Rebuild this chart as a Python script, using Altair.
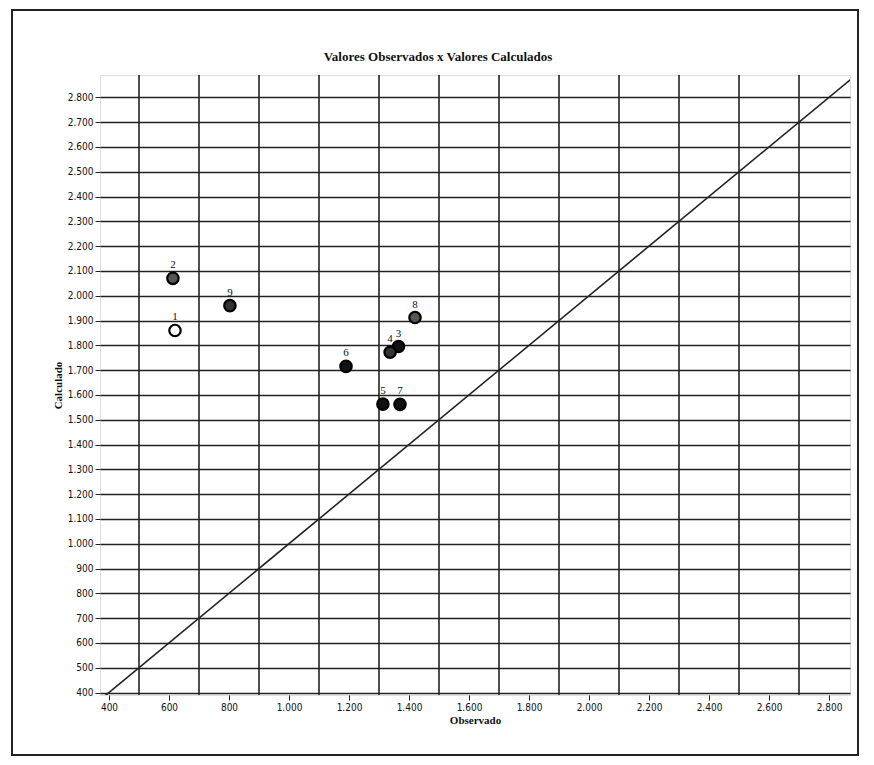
import altair as alt
import pandas as pd

# Data
ids = ["1", "2", "3", "4", "5", "6", "7", "8", "9"]
observado = [620, 613, 1365, 1337, 1313, 1190, 1370, 1420, 803]
calculado = [1860, 2070, 1795, 1772, 1563, 1715, 1562, 1912, 1960]
fills = ["#ffffff", "#555555", "#111111", "#333333", "#111111", "#111111", "#111111", "#555555", "#333333"]

x_ticks = list(range(400, 2801, 200))
y_ticks = list(range(400, 2801, 100))
x_grid = list(range(500, 2801, 200))
diag = [380, 2880]
title_text = ["Valores Observados x Valores Calculados"]

X_DOM = [370, 2870]
Y_DOM = [390, 2890]

pts = pd.DataFrame({"id": ids, "obs": observado, "calc": calculado, "fill": fills})
grid_df = pd.DataFrame({"g": x_grid})
diag_df = pd.DataFrame({"v": diag})
frame_df = pd.DataFrame({"t": title_text})

lbl = "replace(format(datum.value, ','), ',', '.')"

xs = alt.Scale(domain=X_DOM, nice=False, zero=False)
ys = alt.Scale(domain=Y_DOM, nice=False, zero=False)

x_axis = alt.Axis(values=x_ticks, labelExpr=lbl, grid=False, title="Observado",
                  labelFont="DejaVu Sans Condensed", labelFontSize=10, labelColor="#111",
                  labelOverlap=False,
                  titleFont="Liberation Serif", titleFontSize=11, titleFontWeight="bold",
                  titleColor="#111", tickColor="#222", tickSize=5, domain=False, titlePadding=2)
y_axis = alt.Axis(values=y_ticks, labelExpr=lbl, grid=True, gridColor="#222", gridWidth=1.6,
                  labelOverlap=False,
                  title="Calculado", labelFont="DejaVu Sans Condensed", labelFontSize=10,
                  labelColor="#111", titleFont="Liberation Serif", titleFontSize=11,
                  titleFontWeight="bold", titleColor="#111", tickColor="#222", tickSize=5,
                  domain=False, titlePadding=4)

base = alt.Chart(pts)

vgrid = alt.Chart(grid_df).mark_rule(color="#222", strokeWidth=1.6).encode(
    x=alt.X("g:Q", scale=xs, axis=x_axis)
)

diagonal = alt.Chart(diag_df).mark_line(color="#222", strokeWidth=1.6, clip=True).encode(
    x=alt.X("v:Q", scale=xs, axis=x_axis),
    y=alt.Y("v:Q", scale=ys, axis=y_axis),
)

points = base.mark_point(shape="circle", size=130, filled=True, stroke="#000",
                         strokeWidth=2.2, opacity=1).encode(
    x=alt.X("obs:Q", scale=xs, axis=x_axis),
    y=alt.Y("calc:Q", scale=ys, axis=y_axis),
    fill=alt.Fill("fill:N", scale=None),
)

labels = base.mark_text(font="Liberation Serif", fontSize=11, dy=-13, color="#111").encode(
    x=alt.X("obs:Q", scale=xs, axis=x_axis),
    y=alt.Y("calc:Q", scale=ys, axis=y_axis),
    text="id:N",
)

frame = alt.Chart(frame_df).mark_rect(fill="transparent", stroke="#222", strokeWidth=2, clip=False).encode(
    x=alt.value(-88), x2=alt.value(758), y=alt.value(-65), y2=alt.value(680)
)

title = alt.Chart(frame_df).mark_text(font="Liberation Serif", fontSize=13, fontWeight="bold",
                                      color="#111", baseline="middle", align="center").encode(
    x=alt.value(338), y=alt.value(-18), text="t:N"
)

chart = alt.layer(vgrid, diagonal, points, labels, frame, title).properties(
    width=750, height=620,
    autosize=alt.AutoSizeParams(type="none"),
    padding={"left": 92, "top": 67, "right": 16, "bottom": 70},
).configure_view(stroke="#222", strokeWidth=2).configure(background="white")

chart.save("out.html", embed_options={"renderer": "svg", "actions": False})
